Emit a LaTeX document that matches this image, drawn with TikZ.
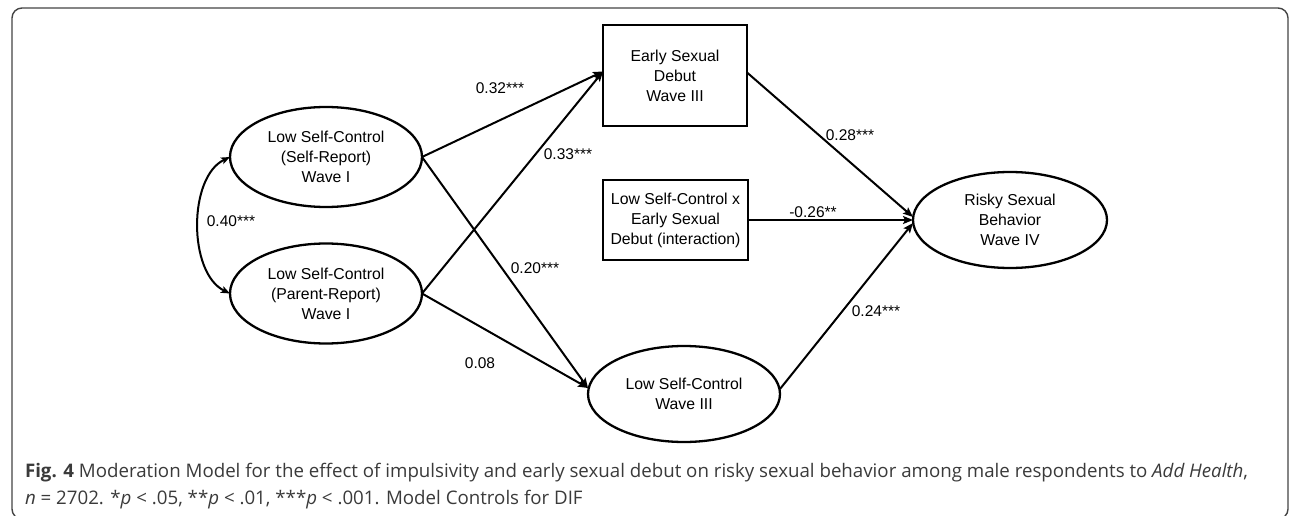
\documentclass[tikz,border=0pt]{standalone}
\usepackage{fontspec}
\setmainfont{Liberation Sans}
\newfontfamily\capfont{Open Sans}
\usetikzlibrary{shapes.geometric,arrows.meta}
\definecolor{capgray}{HTML}{3A3A3A}
\definecolor{framegray}{HTML}{444444}
\begin{document}
\begin{tikzpicture}[x=1pt,y=1pt,
  every node/.style={inner sep=0pt,outer sep=0pt},
  txt/.style={font=\fontsize{15.8}{20}\selectfont,align=center},
  oval/.style={draw,ellipse,line width=2.3pt,txt},
  varbox/.style={draw,rectangle,line width=2.3pt,txt},
  path/.style={line width=2pt,-{Stealth[length=10pt,width=8pt,inset=2pt]}},
  lbl/.style={font=\fontsize{15.5}{18}\selectfont}
]
\useasboundingbox (0,0) rectangle (1290,515);
\clip (0,0) rectangle (1290,515);
\draw[framegray,line width=1.4pt,rounded corners=10pt] (12,-4) rectangle (1288,507);

\node[oval,minimum width=192pt,minimum height=100pt] (sr) at (326,358) {Low Self-Control\\(Self-Report)\\Wave I};
\node[oval,minimum width=192pt,minimum height=100pt] (pr) at (326,221.5) {Low Self-Control\\(Parent-Report)\\Wave I};
\node[varbox,minimum width=144pt,minimum height=101pt] (esd) at (675,439.5) {Early Sexual\\Debut\\Wave III};
\node[varbox,minimum width=145pt,minimum height=80pt] (inter) at (675.5,295) {Low Self-Control x\\Early Sexual\\Debut (interaction)};
\node[oval,minimum width=194pt,minimum height=96pt] (risky) at (1010,295) {Risky Sexual\\Behavior\\Wave IV};
\node[oval,minimum width=192pt,minimum height=96pt] (w3) at (684,121) {Low Self-Control\\Wave III};

\draw[path] (sr.east) -- ([yshift=4pt]esd.west);
\draw[path] (pr.east) -- ([yshift=4pt]esd.west);
\draw[path] (sr.east) -- ([yshift=6pt]w3.west);
\draw[path] (pr.east) -- ([yshift=6pt]w3.west);
\draw[path] ([yshift=3pt]esd.east) -- ([yshift=3pt]risky.west);
\draw[path] (inter.east) -- (risky.west);
\draw[path] ([yshift=5pt]w3.east) -- ([yshift=-3pt]risky.west);
\draw[line width=2pt,{Stealth[length=9pt,width=7pt,inset=2pt]}-{Stealth[length=9pt,width=7pt,inset=2pt]}]
  (sr.west) .. controls (188,338) and (188,242) .. (pr.west);

\node[lbl] (l1) at (500,427) {0.32***};
\node[lbl] (l2) at (568,361) {0.33***};
\node[lbl] (l3) at (231,294) {0.40***};
\node[lbl] (l4) at (535,247) {0.20***};
\node[lbl] (l5) at (480,152) {0.08};
\node[lbl] (l6) at (850,380) {0.28***};
\node[lbl] (l7) at (813,303) {-0.26**};
\node[lbl] (l8) at (876,204) {0.24***};

\node[anchor=base west,text=capgray,font=\capfont\fontsize{18.7}{22}\selectfont] (cap1) at (25,38)
  {\textbf{Fig. 4} Moderation Model for the effect of impulsivity and early sexual debut on risky sexual behavior among male respondents to \textit{Add Health},};
\node[anchor=base west,text=capgray,font=\capfont\fontsize{18.7}{22}\selectfont] (cap2) at (25,11)
  {\textit{n} = 2702. *\textit{p} < .05, **\textit{p} < .01, ***\textit{p} < .001. Model Controls for DIF};
\end{tikzpicture}
\end{document}
